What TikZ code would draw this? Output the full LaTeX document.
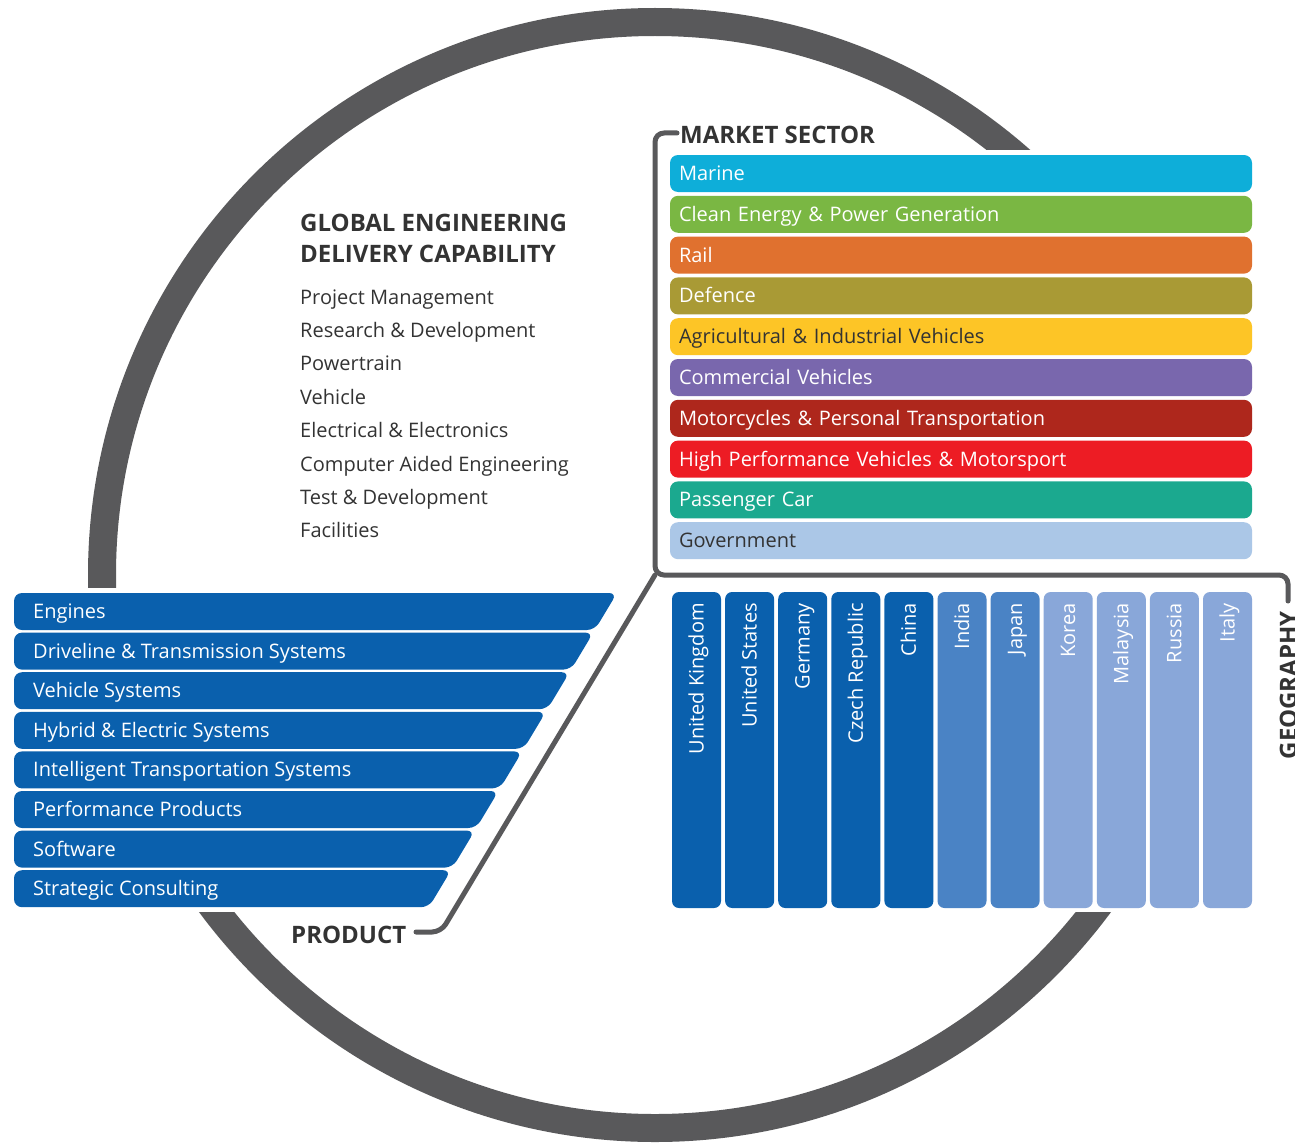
\documentclass[tikz,border=0pt]{standalone}
\usepackage{fontspec}
\setmainfont{Open Sans}
\definecolor{ringgray}{HTML}{59595B}
\definecolor{prodblue}{HTML}{0A60AD}
\definecolor{midblue}{HTML}{4A83C5}
\definecolor{lightblue}{HTML}{89A7D9}
\definecolor{darktext}{HTML}{333333}
\definecolor{cMarine}{HTML}{0EAED9}
\definecolor{cClean}{HTML}{7AB743}
\definecolor{cRail}{HTML}{E0712F}
\definecolor{cDefence}{HTML}{A99A35}
\definecolor{cAgri}{HTML}{FDC526}
\definecolor{cComm}{HTML}{7967AD}
\definecolor{cMoto}{HTML}{AE271C}
\definecolor{cHigh}{HTML}{ED1C24}
\definecolor{cPass}{HTML}{1BA98F}
\definecolor{cGov}{HTML}{ABC7E7}
\begin{document}
\begin{tikzpicture}[x=1pt,y=-1pt,
  bodyfont/.style={font=\fontsize{20}{24}\selectfont},
  headfont/.style={font=\bfseries\fontsize{24}{28}\selectfont},
  bracket/.style={draw=ringgray, line width=5pt, line cap=round, rounded corners=9pt},
  mbox/.style={bodyfont, rounded corners=8pt, minimum height=37pt, text width=564pt,
    inner xsep=9pt, inner ysep=0pt, align=left, text height=18pt, text depth=4pt, text=white},
  gcol/.style={rounded corners=7pt, minimum width=49pt, minimum height=316pt, inner sep=0pt},
  gtext/.style={bodyfont, rotate=90, anchor=east, inner sep=0pt, text=white,
    text height=18pt, text depth=4pt},
  ptext/.style={bodyfont, anchor=west, inner sep=0pt, text=white, text height=18pt, text depth=4pt},
  ltext/.style={bodyfont, anchor=base west, inner sep=0pt, text=darktext},
  htext/.style={headfont, anchor=base west, inner sep=0pt, text=darktext}
]
\useasboundingbox (0,0) rectangle (1295,1145);

% outer ring, hidden behind the two panels
\draw[ringgray, line width=28pt] (655,575) circle[radius=553pt];
\fill[white] (660,150) rectangle (1300,912);
\fill[white] (0,588) rectangle (630,912);

% bracket lines
\coordinate (hub) at (655,575);
\coordinate (msEnd) at (677,133);
\coordinate (geoEnd) at (1288,601);
\coordinate (prBend) at (441,932);
\coordinate (prEnd) at (416,932);
\draw[bracket] (msEnd) -| (hub) -| (geoEnd);
\draw[bracket] (hub) -- (prBend) -- (prEnd);

% headings
\node[htext] (ms) at (680,143) {MARKET SECTOR};
\node[htext] (pr) at (291,943) {PRODUCT};
\node[headfont, rotate=90, anchor=base east, inner sep=0pt, text=darktext] (geo) at (1297,611) {GEOGRAPHY};
\node[htext] (gedc1) at (300,231.5) {GLOBAL ENGINEERING};
\node[htext] (gedc2) at (300,262.5) {DELIVERY CAPABILITY};

% capability list
\foreach \lab [count=\i from 0] in {Project Management, Research \& Development, Powertrain,
  Vehicle, Electrical \& Electronics, Computer Aided Engineering, Test \& Development, Facilities}{
  \node[ltext] (cap\i) at (300,{304+33.4*\i}) {\lab};
}

% market sectors
\foreach \lab/\col/\tc [count=\i from 0] in {Marine/cMarine/white,
  Clean Energy \& Power Generation/cClean/white, Rail/cRail/white, Defence/cDefence/white,
  Agricultural \& Industrial Vehicles/cAgri/darktext, Commercial Vehicles/cComm/white,
  Motorcycles \& Personal Transportation/cMoto/white,
  High Performance Vehicles \& Motorsport/cHigh/white, Passenger Car/cPass/white,
  Government/cGov/darktext}{
  \node[mbox, fill=\col, text=\tc] (ms\i) at (961,{173.5+40.8*\i}) {\lab};
}

% products
\foreach \lab [count=\i from 0] in {Engines, Driveline \& Transmission Systems, Vehicle Systems,
  Hybrid \& Electric Systems, Intelligent Transportation Systems, Performance Products,
  Software, Strategic Consulting}{
  \pgfmathsetmacro\yt{593+39.6*\i}
  \pgfmathsetmacro\yb{\yt+37}
  \pgfmathsetmacro\xr{617-23.7*\i}
  \fill[prodblue, rounded corners=8pt] (14,\yt) -- (\xr,\yt) -- ({\xr-22.2},\yb) -- (14,\yb) -- cycle;
  \node[ptext] (prod\i) at (33,{\yt+18.5}) {\lab};
}

% geography
\foreach \lab/\col [count=\i from 0] in {United Kingdom/prodblue, United States/prodblue,
  Germany/prodblue, Czech Republic/prodblue, China/prodblue, India/midblue, Japan/midblue,
  Korea/lightblue, Malaysia/lightblue, Russia/lightblue, Italy/lightblue}{
  \node[gcol, fill=\col] (geo\i) at ({696.5+53.1*\i},750) {};
  \node[gtext] (geot\i) at ({696.5+53.1*\i},603) {\lab};
}
\end{tikzpicture}
\end{document}
